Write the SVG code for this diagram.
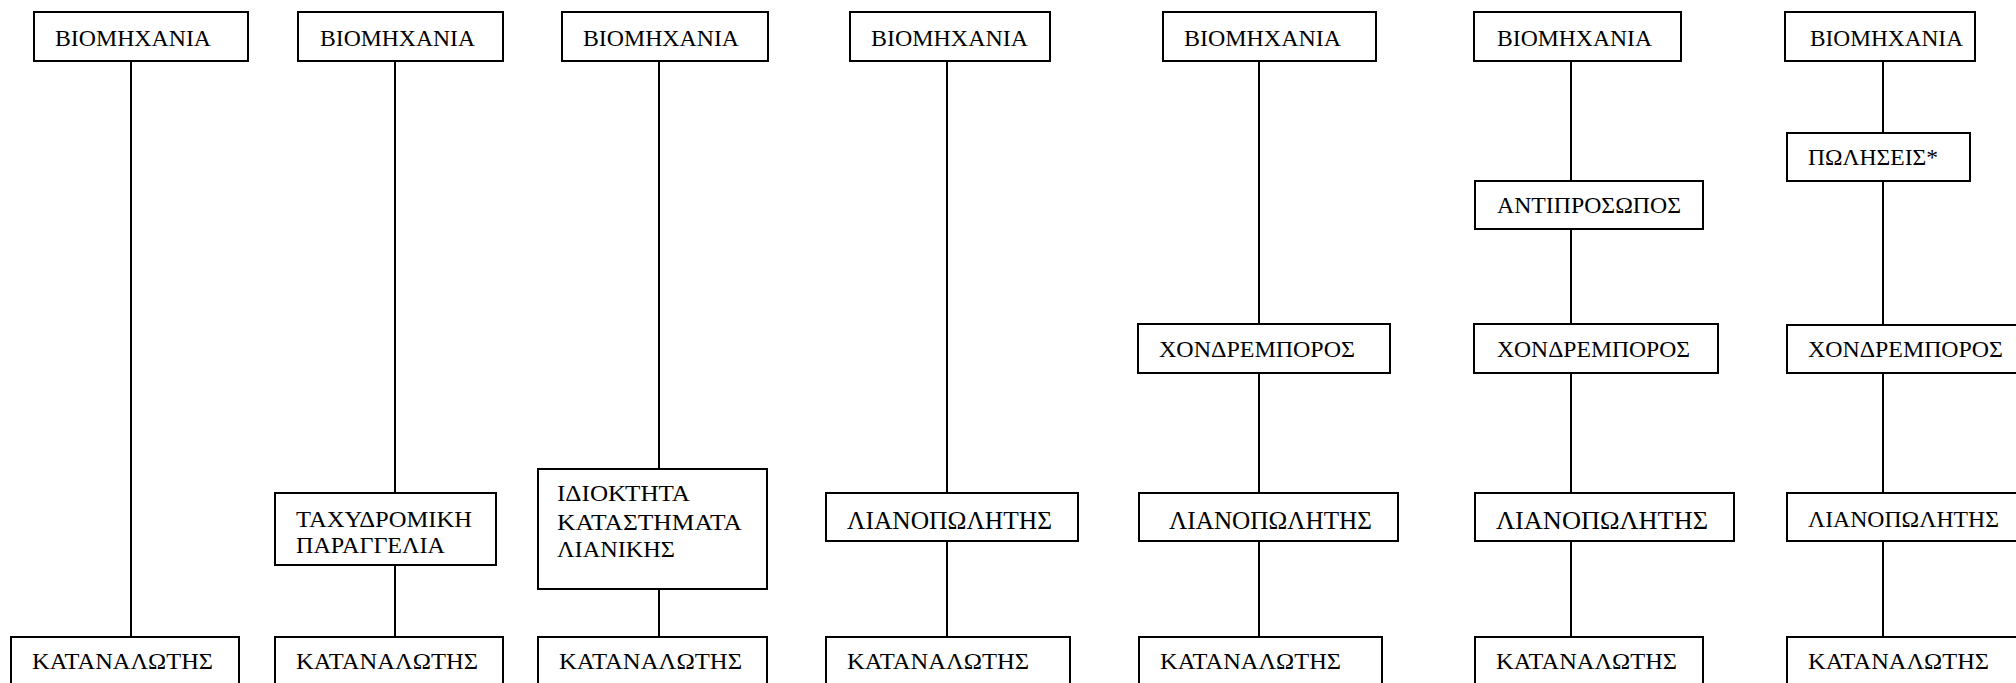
<svg xmlns="http://www.w3.org/2000/svg" width="2016" height="683" viewBox="0 0 2016 683">
<style>
  rect { fill: #ffffff; stroke: #000000; stroke-width: 2; }
  text { font-family: "Liberation Serif", "Times New Roman", serif; font-size: 24px; fill: #000000; }
  .conn line { stroke: #000000; stroke-width: 2; }
  .big { font-size: 25.5px; }
  .small { font-size: 23px; }
</style>
<rect x="0" y="0" width="2016" height="683" style="fill:#ffffff;stroke:none"/>
<g class="conn" id="connectors">
  <line x1="131" y1="61" x2="131" y2="637"/>
  <line x1="395" y1="61" x2="395" y2="493"/>
  <line x1="395" y1="565" x2="395" y2="637"/>
  <line x1="659" y1="61" x2="659" y2="469"/>
  <line x1="659" y1="589" x2="659" y2="637"/>
  <line x1="947" y1="61" x2="947" y2="493"/>
  <line x1="947" y1="541" x2="947" y2="637"/>
  <line x1="1259" y1="61" x2="1259" y2="324"/>
  <line x1="1259" y1="373" x2="1259" y2="493"/>
  <line x1="1259" y1="541" x2="1259" y2="637"/>
  <line x1="1571" y1="61" x2="1571" y2="181"/>
  <line x1="1571" y1="229" x2="1571" y2="324"/>
  <line x1="1571" y1="373" x2="1571" y2="493"/>
  <line x1="1571" y1="541" x2="1571" y2="637"/>
  <line x1="1883" y1="61" x2="1883" y2="133"/>
  <line x1="1883" y1="181" x2="1883" y2="325"/>
  <line x1="1883" y1="373" x2="1883" y2="493"/>
  <line x1="1883" y1="541" x2="1883" y2="637"/>
</g>
<!-- Column 1 -->
<g id="c1_industry"><rect x="34" y="12" width="214" height="49"/><text x="55" y="46" textLength="156" lengthAdjust="spacingAndGlyphs">ΒΙΟΜΗΧΑΝΙΑ</text></g>
<g id="c1_consumer"><rect x="11" y="637" width="228" height="70"/><text x="32" y="669" textLength="181" lengthAdjust="spacingAndGlyphs">ΚΑΤΑΝΑΛΩΤΗΣ</text></g>
<!-- Column 2 -->
<g id="c2_industry"><rect x="298" y="12" width="205" height="49"/><text x="320" y="46" textLength="155" lengthAdjust="spacingAndGlyphs">ΒΙΟΜΗΧΑΝΙΑ</text></g>
<g id="c2_mailorder"><rect x="275" y="493" width="221" height="72"/><text x="296" y="527" textLength="176" lengthAdjust="spacingAndGlyphs">ΤΑΧΥΔΡΟΜΙΚΗ</text><text x="296" y="553" textLength="149" lengthAdjust="spacingAndGlyphs">ΠΑΡΑΓΓΕΛΙΑ</text></g>
<g id="c2_consumer"><rect x="275" y="637" width="228" height="70"/><text x="296" y="669" textLength="182" lengthAdjust="spacingAndGlyphs">ΚΑΤΑΝΑΛΩΤΗΣ</text></g>
<!-- Column 3 -->
<g id="c3_industry"><rect x="562" y="12" width="206" height="49"/><text x="583" y="46" textLength="156" lengthAdjust="spacingAndGlyphs">ΒΙΟΜΗΧΑΝΙΑ</text></g>
<g id="c3_ownstores"><rect x="538" y="469" width="229" height="120"/><text x="557" y="501" textLength="133" lengthAdjust="spacingAndGlyphs">ΙΔΙΟΚΤΗΤΑ</text><text x="557" y="530" textLength="185" lengthAdjust="spacingAndGlyphs">ΚΑΤΑΣΤΗΜΑΤΑ</text><text x="557" y="557" textLength="118" lengthAdjust="spacingAndGlyphs">ΛΙΑΝΙΚΗΣ</text></g>
<g id="c3_consumer"><rect x="538" y="637" width="229" height="70"/><text x="559" y="669" textLength="183" lengthAdjust="spacingAndGlyphs">ΚΑΤΑΝΑΛΩΤΗΣ</text></g>
<!-- Column 4 -->
<g id="c4_industry"><rect x="850" y="12" width="200" height="49"/><text x="871" y="46" textLength="157" lengthAdjust="spacingAndGlyphs">ΒΙΟΜΗΧΑΝΙΑ</text></g>
<g id="c4_retailer"><rect x="826" y="493" width="252" height="48"/><text class="big" x="847" y="529" textLength="205" lengthAdjust="spacingAndGlyphs">ΛΙΑΝΟΠΩΛΗΤΗΣ</text></g>
<g id="c4_consumer"><rect x="826" y="637" width="244" height="70"/><text x="847" y="669" textLength="182" lengthAdjust="spacingAndGlyphs">ΚΑΤΑΝΑΛΩΤΗΣ</text></g>
<!-- Column 5 -->
<g id="c5_industry"><rect x="1163" y="12" width="213" height="49"/><text x="1184" y="46" textLength="157" lengthAdjust="spacingAndGlyphs">ΒΙΟΜΗΧΑΝΙΑ</text></g>
<g id="c5_wholesaler"><rect x="1138" y="324" width="252" height="49"/><text x="1159" y="357" textLength="196" lengthAdjust="spacingAndGlyphs">ΧΟΝΔΡΕΜΠΟΡΟΣ</text></g>
<g id="c5_retailer"><rect x="1139" y="493" width="259" height="48"/><text class="big" x="1169" y="529" textLength="203" lengthAdjust="spacingAndGlyphs">ΛΙΑΝΟΠΩΛΗΤΗΣ</text></g>
<g id="c5_consumer"><rect x="1139" y="637" width="243" height="70"/><text x="1160" y="669" textLength="181" lengthAdjust="spacingAndGlyphs">ΚΑΤΑΝΑΛΩΤΗΣ</text></g>
<!-- Column 6 -->
<g id="c6_industry"><rect x="1474" y="12" width="207" height="49"/><text x="1497" y="46" textLength="155" lengthAdjust="spacingAndGlyphs">ΒΙΟΜΗΧΑΝΙΑ</text></g>
<g id="c6_agent"><rect x="1475" y="181" width="228" height="48"/><text x="1497" y="213" textLength="184" lengthAdjust="spacingAndGlyphs">ΑΝΤΙΠΡΟΣΩΠΟΣ</text></g>
<g id="c6_wholesaler"><rect x="1474" y="324" width="244" height="49"/><text x="1497" y="357" textLength="193" lengthAdjust="spacingAndGlyphs">ΧΟΝΔΡΕΜΠΟΡΟΣ</text></g>
<g id="c6_retailer"><rect x="1475" y="493" width="259" height="48"/><text class="big" x="1496" y="529" textLength="212" lengthAdjust="spacingAndGlyphs">ΛΙΑΝΟΠΩΛΗΤΗΣ</text></g>
<g id="c6_consumer"><rect x="1475" y="637" width="228" height="70"/><text x="1496" y="669" textLength="181" lengthAdjust="spacingAndGlyphs">ΚΑΤΑΝΑΛΩΤΗΣ</text></g>
<!-- Column 7 -->
<g id="c7_industry"><rect x="1785" y="12" width="190" height="49"/><text x="1810" y="46" textLength="153" lengthAdjust="spacingAndGlyphs">ΒΙΟΜΗΧΑΝΙΑ</text></g>
<g id="c7_sales"><rect x="1787" y="133" width="183" height="48"/><text x="1808" y="165" textLength="130" lengthAdjust="spacingAndGlyphs">ΠΩΛΗΣΕΙΣ*</text></g>
<g id="c7_wholesaler"><rect x="1787" y="325" width="250" height="48"/><text x="1808" y="357" textLength="195" lengthAdjust="spacingAndGlyphs">ΧΟΝΔΡΕΜΠΟΡΟΣ</text></g>
<g id="c7_retailer"><rect x="1787" y="493" width="250" height="48"/><text class="small" x="1808" y="527" textLength="191" lengthAdjust="spacingAndGlyphs">ΛΙΑΝΟΠΩΛΗΤΗΣ</text></g>
<g id="c7_consumer"><rect x="1787" y="637" width="250" height="70"/><text x="1808" y="669" textLength="181" lengthAdjust="spacingAndGlyphs">ΚΑΤΑΝΑΛΩΤΗΣ</text></g>
</svg>
